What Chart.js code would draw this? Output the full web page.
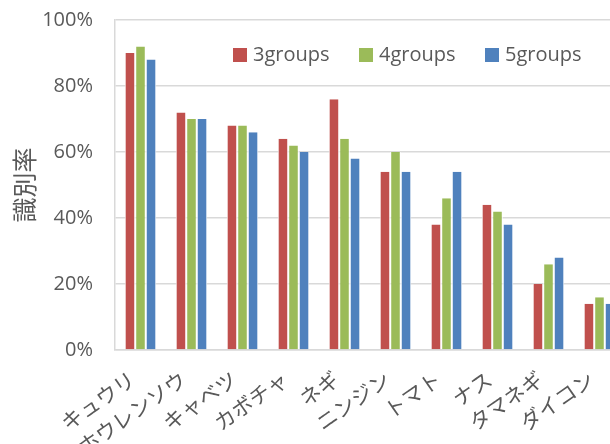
<!DOCTYPE html>
<html>
<head>
<meta charset="utf-8">
<script src="https://cdn.jsdelivr.net/npm/chart.js@4.4.1/dist/chart.umd.min.js"></script>
<style>
    html, body { margin: 0; padding: 0; background: #fff; overflow: hidden; }
    #wrap { position: relative; width: 630px; height: 444px; }
</style>
</head>
<body>
<div id="wrap"><canvas id="bar-chart"></canvas></div>
<script>
(function () {
    "use strict";

    const categories = ["キュウリ", "ホウレンソウ", "キャベツ", "カボチャ", "ネギ", "ニンジン", "トマト", "ナス", "タマネギ", "ダイコン"];
    const groups3 = [90, 72, 68, 64, 76, 54, 38, 44, 20, 14];
    const groups4 = [92, 70, 68, 62, 64, 60, 46, 42, 26, 16];
    const groups5 = [88, 70, 66, 60, 58, 54, 54, 38, 28, 14];
    const seriesNames = ["3groups", "4groups", "5groups"];
    const yTicks = [0, 20, 40, 60, 80, 100];

    const FONT = "'Open Sans', 'Noto Sans CJK JP', sans-serif";
    const TEXT = "#595959";
    const GRID = "#d9d9d9";

    const bar = (label, data, color) => ({
        label: label,
        data: data,
        backgroundColor: color,
        borderColor: "#ffffff",
        borderWidth: { left: 1, right: 1, top: 0, bottom: 0 },
        borderSkipped: false,
        barPercentage: 1,
        categoryPercentage: 0.62,
    });

    // legend drawn inside the plot, like the Excel original
    const innerLegend = {
        id: "innerLegend",
        afterDraw(chart) {
            const ctx = chart.ctx;
            const area = chart.chartArea;
            const y = area.top + 35;
            let x = area.left + 118;
            ctx.save();
            ctx.font = "20px " + FONT;
            ctx.textBaseline = "middle";
            ctx.textAlign = "left";
            chart.data.datasets.forEach((ds) => {
                ctx.fillStyle = ds.backgroundColor;
                ctx.fillRect(x, y - 7, 14, 14);
                ctx.fillStyle = TEXT;
                ctx.fillText(ds.label, x + 20, y);
                x += 126;
            });
            ctx.restore();
        },
    };

    new Chart(document.getElementById("bar-chart"), {
        type: "bar",
        data: {
            labels: categories,
            datasets: [
                bar(seriesNames[0], groups3, "#c0504d"),
                bar(seriesNames[1], groups4, "#9bbb59"),
                bar(seriesNames[2], groups5, "#4f81bd"),
            ],
        },
        plugins: [innerLegend],
        options: {
            responsive: true,
            maintainAspectRatio: false,
            animation: false,
            layout: { padding: { top: 20, right: 5, left: 0, bottom: 0 } },
            plugins: {
                tooltip: { enabled: false },
                legend: { display: false },
            },
            scales: {
                x: {
                    afterFit: (s) => { s.height = 94; },
                    ticks: {
                        minRotation: 35,
                        maxRotation: 35,
                        padding: 10,
                        labelOffset: -7,
                        color: TEXT,
                        font: { family: FONT, size: 21 },
                    },
                    grid: { display: false },
                    border: { display: true, color: GRID, width: 1.5 },
                },
                y: {
                    min: 0,
                    max: 100,
                    afterFit: (s) => { s.width = 115; },
                    afterBuildTicks: (s) => { s.ticks = yTicks.map((v) => ({ value: v })); },
                    ticks: {
                        padding: 0,
                        color: TEXT,
                        font: { family: FONT, size: 20 },
                        callback: (v) => v + "%",
                    },
                    grid: {
                        color: GRID,
                        lineWidth: 1.5,
                        drawTicks: true,
                        tickLength: 22,
                        tickColor: "rgba(0,0,0,0)",
                    },
                    border: { display: true, color: GRID, width: 1.5 },
                    title: {
                        display: true,
                        text: "識別率",
                        color: TEXT,
                        padding: { top: 12, bottom: 0 },
                        font: { family: FONT, size: 25 },
                    },
                },
            },
        },
    });
})();
</script>
</body>
</html>
